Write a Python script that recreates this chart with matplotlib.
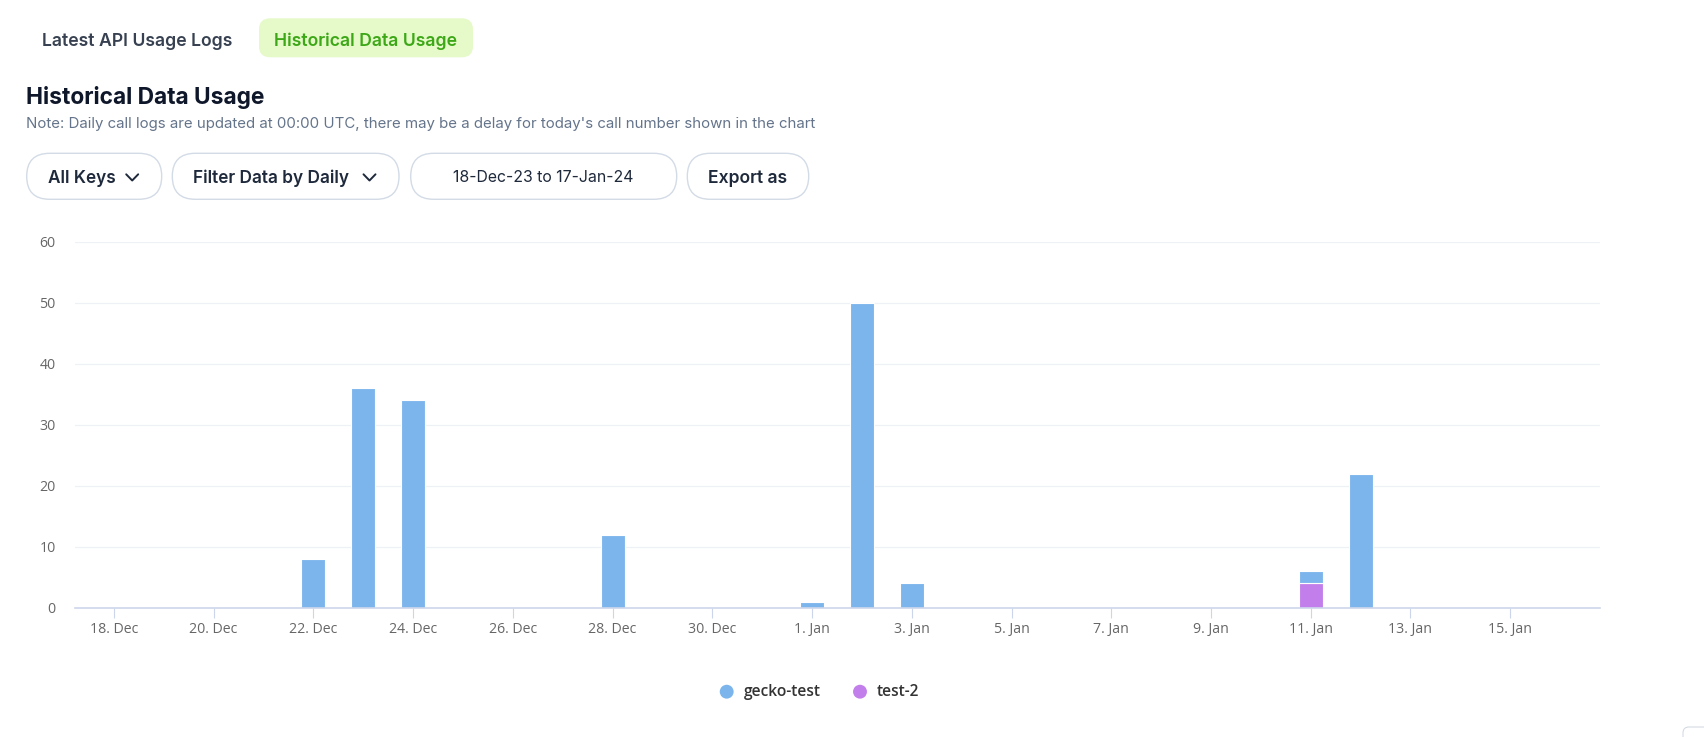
import matplotlib
matplotlib.use("Agg")
import matplotlib.pyplot as plt
from matplotlib.patches import FancyBboxPatch
from matplotlib.lines import Line2D
import numpy as np

# ---------------- data ----------------
day_labels = ["18 Dec", "19 Dec", "20 Dec", "21 Dec", "22 Dec", "23 Dec", "24 Dec", "25 Dec",
              "26 Dec", "27 Dec", "28 Dec", "29 Dec", "30 Dec", "31 Dec", "1 Jan", "2 Jan",
              "3 Jan", "4 Jan", "5 Jan", "6 Jan", "7 Jan", "8 Jan", "9 Jan", "10 Jan",
              "11 Jan", "12 Jan", "13 Jan", "14 Jan", "15 Jan", "16 Jan", "17 Jan"]
gecko_test = [0, 0, 0, 0, 8, 36, 34, 0, 0, 0, 12, 0, 0, 0, 1, 50,
              4, 0, 0, 0, 0, 0, 0, 0, 2, 22, 0, 0, 0, 0, 0]
test_2 = [0, 0, 0, 0, 0, 0, 0, 0, 0, 0, 0, 0, 0, 0, 0, 0,
          0, 0, 0, 0, 0, 0, 0, 0, 4, 0, 0, 0, 0, 0, 0]
series_names = ["gecko-test", "test-2"]
series_colors = ["#7cb5ec", "#c27eea"]
x_tick_labels = ["18. Dec", "20. Dec", "22. Dec", "24. Dec", "26. Dec", "28. Dec", "30. Dec",
                 "1. Jan", "3. Jan", "5. Jan", "7. Jan", "9. Jan", "11. Jan", "13. Jan", "15. Jan"]
y_ticks = [0, 10, 20, 30, 40, 50, 60]

W, H = 1704, 737
fig = plt.figure(figsize=(W / 100, H / 100), dpi=100)
fig.patch.set_facecolor("white")

# overlay for UI in pixel coordinates
ov = fig.add_axes([0, 0, 1, 1], zorder=0)
ov.set_xlim(0, W)
ov.set_ylim(H, 0)
ov.axis("off")

UI = ["Inter", "DejaVu Sans"]

def pill(x0, y0, x1, y1, r, fc, ec, lw=1.0):
    p = FancyBboxPatch((x0, y0), x1 - x0, y1 - y0,
                       boxstyle=f"round,pad=0,rounding_size={r}",
                       fc=fc, ec=ec, lw=lw)
    ov.add_patch(p)

# tabs
ov.text(41.5, 45.7, "Latest API Usage Logs", family=UI, fontsize=12.7, fontweight="semibold",
        color="#374151", ha="left", va="baseline")
pill(259, 18.3, 473, 57.3, 11, "#e6fac9", "none")
ov.text(366, 45.7, "Historical Data Usage", family=UI, fontsize=12.7, fontweight="semibold",
        color="#3da817", ha="center", va="baseline")

# heading + note
ov.text(26.5, 104, "Historical Data Usage", family=UI, fontsize=16.4, fontweight="bold",
        color="#0f172a", ha="left", va="baseline")
ov.text(26.5, 128.3, "Note: Daily call logs are updated at 00:00 UTC, there may be a delay for today's call number shown in the chart",
        family=UI, fontsize=10.8, color="#64748b", ha="left", va="baseline")

# buttons
btn_ec = "#d3dbe6"
btn_y0, btn_y1 = 153.3, 199.3
for (x0, x1) in [(26.7, 161.7), (172.3, 399), (410.7, 676.7), (687.3, 808.7)]:
    pill(x0, btn_y0, x1, btn_y1, 23, "white", btn_ec, lw=1.0)
ov.text(47.7, 183.3, "All Keys", family=UI, fontsize=12.4, fontweight="semibold",
        color="#1e293b", ha="left", va="baseline")
ov.text(193.3, 183.3, "Filter Data by Daily", family=UI, fontsize=12.4, fontweight="semibold",
        color="#1e293b", ha="left", va="baseline")
ov.text(543.5, 181.5, "18-Dec-23 to 17-Jan-24", family=UI, fontsize=11.4,
        color="#1e293b", ha="center", va="baseline")
ov.text(748, 183.3, "Export as", family=UI, fontsize=12.6, fontweight="semibold",
        color="#1e293b", ha="center", va="baseline")
for cx in (132.2, 369.5):
    ov.add_line(Line2D([cx - 6, cx, cx + 6], [174.3, 180.5, 174.3], color="#1e293b",
                       lw=1.4, solid_capstyle="round", solid_joinstyle="round"))

# small element bottom-right
pill(1683, 727, 1730, 770, 6, "white", "#d5dbe3", lw=0.8)

# ---------------- chart ----------------
ax = fig.add_axes([75 / W, 1 - 607.7 / H, 1525 / W, 366 / H], zorder=2)
ax.set_facecolor("none")
x = np.arange(len(day_labels))
g = np.array(gecko_test, dtype=float)
t = np.array(test_2, dtype=float)
bw = 0.48
mt = t > 0
ax.bar(x[mt], t[mt], width=bw, color=series_colors[1], edgecolor="white", linewidth=0.8, zorder=3)
mg = g > 0
ax.bar(x[mg], g[mg], bottom=t[mg], width=bw, color=series_colors[0], edgecolor="white",
       linewidth=0.8, zorder=3)

ax.set_xlim(-0.78, 29.8)
ax.set_ylim(0, 60)
ax.set_yticks(y_ticks)
ax.set_yticklabels([str(v) for v in y_ticks])
ax.set_xticks(x[::2][:len(x_tick_labels)])
ax.set_xticklabels(x_tick_labels)
ax.grid(axis="y", color="#eef1f6", lw=0.9, zorder=0)
for s in ("left", "right", "top"):
    ax.spines[s].set_visible(False)
ax.spines["bottom"].set_color("#ccd6eb")
ax.spines["bottom"].set_linewidth(1.2)
ax.spines["bottom"].set_zorder(4)
ax.tick_params(axis="x", length=7.5, width=0.8, color="#ccd6eb", pad=2.5,
               labelsize=10.2, labelcolor="#666666")
ax.tick_params(axis="y", length=0, pad=14, labelsize=10.2, labelcolor="#666666")
for lab in ax.get_xticklabels() + ax.get_yticklabels():
    lab.set_family(["Open Sans", "DejaVu Sans"])

# legend
leg_y = 691.7
for cx, tx, name, col in zip((726.7, 860), (744, 876.7), series_names, series_colors):
    ov.scatter([cx], [leg_y], s=100, color=col, edgecolors="none", zorder=3)
    ov.text(tx, leg_y, name, family=["Open Sans", "DejaVu Sans"], fontsize=11.2,
            fontweight="semibold", color="#333333", ha="left", va="center")

fig.savefig("out.png", dpi=100, facecolor="white")
